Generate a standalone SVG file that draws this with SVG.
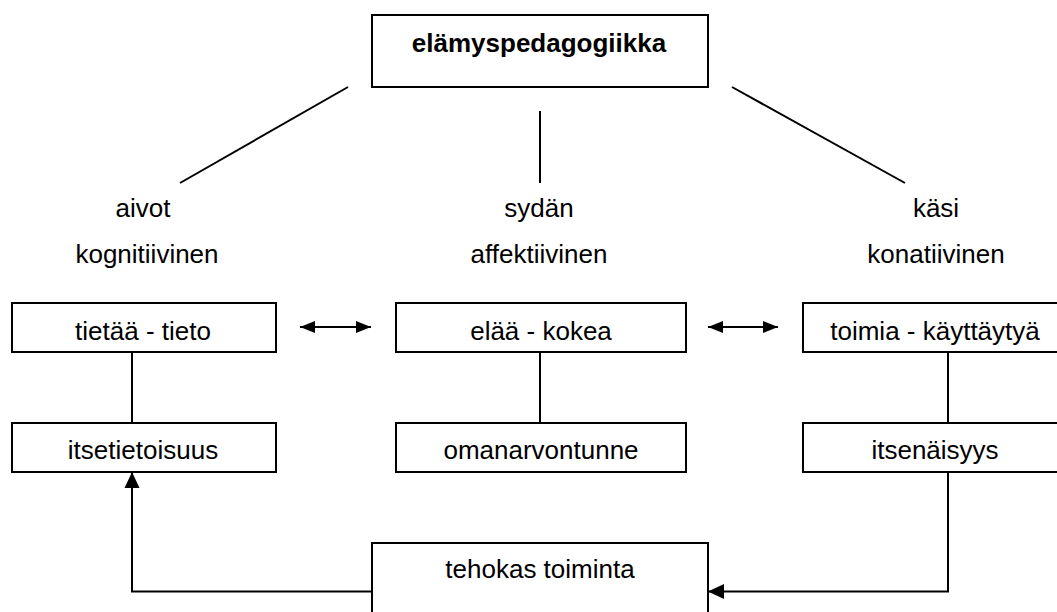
<svg xmlns="http://www.w3.org/2000/svg" width="1057" height="612" viewBox="0 0 1057 612">
<style>
.box{fill:#fff;stroke:#000;stroke-width:2}
.t{font-family:"Liberation Sans",Arial,sans-serif;font-size:26px;fill:#000;text-anchor:middle}
.b{font-weight:bold}
.c{fill:none;stroke:#000;stroke-width:2}
</style>
<defs>
<marker id="ah" markerUnits="userSpaceOnUse" markerWidth="16" markerHeight="16" viewBox="0 0 16 16" refX="16" refY="8" orient="auto-start-reverse">
<path d="M0,0.5 L16,8 L0,15.5 Z" fill="#000"/>
</marker>
<marker id="ahs" markerUnits="userSpaceOnUse" markerWidth="15" markerHeight="12" viewBox="0 0 15 12" refX="15" refY="6" orient="auto-start-reverse">
<path d="M0,0 L15,6 L0,12 Z" fill="#000"/>
</marker>
</defs>
<g id="connectors">
<line class="c" x1="348" y1="87" x2="180" y2="183"/>
<line class="c" x1="540" y1="111" x2="540" y2="183"/>
<line class="c" x1="732" y1="87" x2="905" y2="183"/>
<line class="c" x1="300" y1="327" x2="371" y2="327" marker-start="url(#ahs)" marker-end="url(#ahs)"/>
<line class="c" x1="708" y1="327" x2="778" y2="327" marker-start="url(#ahs)" marker-end="url(#ahs)"/>
<line class="c" x1="132" y1="352" x2="132" y2="423"/>
<line class="c" x1="540" y1="352" x2="540" y2="423"/>
<line class="c" x1="948" y1="352" x2="948" y2="423"/>
<polyline class="c" points="372,591.5 132,591.5 132,472" marker-end="url(#ah)"/>
<polyline class="c" points="948,472 948,591.5 708,591.5" marker-end="url(#ah)"/>
</g>
<g id="n-top">
<rect class="box" x="372" y="15" width="336" height="72"/>
<text class="t b" x="539" y="52">elämyspedagogiikka</text>
</g>
<g id="n-aivot">
<text class="t" x="143" y="217">aivot</text>
<text class="t" x="147" y="263">kognitiivinen</text>
</g>
<g id="n-sydan">
<text class="t" x="539" y="217">sydän</text>
<text class="t" x="539" y="263">affektiivinen</text>
</g>
<g id="n-kasi">
<text class="t" x="936" y="217">käsi</text>
<text class="t" x="936" y="263">konatiivinen</text>
</g>
<g id="n-tietaa">
<rect class="box" x="12" y="303" width="264" height="49"/>
<text class="t" x="143" y="340">tietää - tieto</text>
</g>
<g id="n-elaa">
<rect class="box" x="396" y="303" width="290" height="49"/>
<text class="t" x="541" y="340">elää - kokea</text>
</g>
<g id="n-toimia">
<rect class="box" x="803" y="303" width="264" height="49"/>
<text class="t" x="935" y="340">toimia - käyttäytyä</text>
</g>
<g id="n-itsetietoisuus">
<rect class="box" x="12" y="423" width="264" height="49"/>
<text class="t" x="143" y="459">itsetietoisuus</text>
</g>
<g id="n-omanarvontunne">
<rect class="box" x="396" y="423" width="290" height="49"/>
<text class="t" x="541" y="459">omanarvontunne</text>
</g>
<g id="n-itsenaisyys">
<rect class="box" x="803" y="423" width="264" height="49"/>
<text class="t" x="935" y="459">itsenäisyys</text>
</g>
<g id="n-tehokas">
<rect class="box" x="372" y="543" width="336" height="80"/>
<text class="t" x="540" y="578">tehokas toiminta</text>
</g>
</svg>
